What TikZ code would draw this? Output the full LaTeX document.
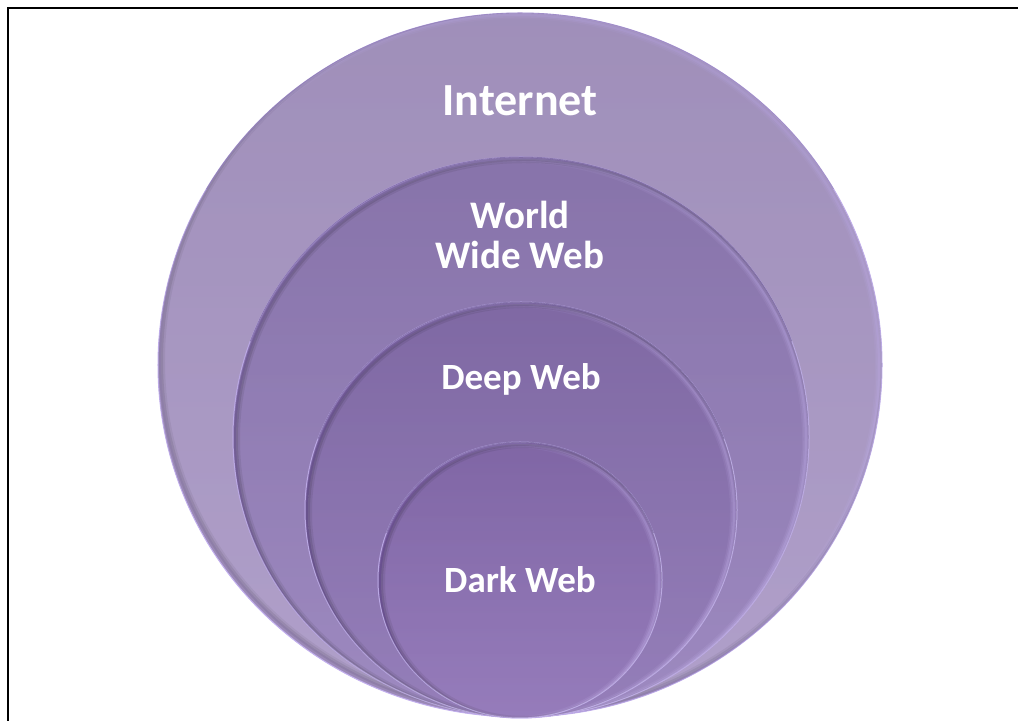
\documentclass[tikz,border=0pt]{standalone}
\usepackage{fontspec}
\setmainfont{Carlito}
\usetikzlibrary{shapes.geometric}
\definecolor{cInt}{HTML}{A592C3}
\definecolor{cWww}{HTML}{8A72B4}
\definecolor{cDeep}{HTML}{8065AC}
\definecolor{cDark}{HTML}{8162AE}
\definecolor{rimlight}{HTML}{C3B0EE}
\definecolor{rimdark}{HTML}{6B5890}
\definecolor{glow}{HTML}{BCA6EC}
\definecolor{shade}{HTML}{5E4C80}
\begin{document}
\begin{tikzpicture}[x=1bp,y=1bp,
  layer/.style={ellipse, inner sep=0pt, draw=rimlight, line width=1bp},
  topedge/.style={draw=rimdark, line width=0.8bp, opacity=0.6},
  lbl/.style={text=white, font=\bfseries, anchor=base, inner sep=0pt}]
\useasboundingbox (0,0) rectangle (1018,721);
\fill[white] (0,0) rectangle (1018,721);
% frame (top and left edges visible)
\coordinate (f1) at (8,0);
\coordinate (f2) at (8,713);
\coordinate (f3) at (1018,713);
\draw[line width=2bp] (f1) -- (f2) -- (f3);
% ---------- Internet
\node[layer, fill=cInt, minimum width=724bp, minimum height=704bp] (internet) at (520,356) {};
\begin{scope}
  \clip (internet.center) ellipse[x radius=362bp, y radius=352bp];
  \foreach \w/\o in {8/0.12,5/0.18,2/0.25}
    \draw[glow, line width=\w bp, opacity=\o] ([xshift=-3bp,yshift=-2bp]internet.center) ellipse[x radius=362bp, y radius=352bp];
  \foreach \w/\o in {8/0.06,4/0.08}
    \draw[shade, line width=\w bp, opacity=\o] ([xshift=3bp,yshift=4bp]internet.center) ellipse[x radius=362bp, y radius=352bp];
\end{scope}
\draw[topedge, opacity=0.35] ([shift={(150:362bp and 352bp)}]internet.center) arc[start angle=150, end angle=30, x radius=362bp, y radius=352bp];
% ---------- World Wide Web
\node[layer, fill=cWww, minimum width=576bp, minimum height=560bp] (www) at (521,284) {};
\begin{scope}
  \clip (www.center) ellipse[x radius=288bp, y radius=280bp];
  \foreach \w/\o in {8/0.12,5/0.18,2/0.25}
    \draw[glow, line width=\w bp, opacity=\o] ([xshift=-3bp,yshift=-2bp]www.center) ellipse[x radius=288bp, y radius=280bp];
  \foreach \w/\o in {8/0.08,4/0.1}
    \draw[shade, line width=\w bp, opacity=\o] ([xshift=3bp,yshift=-2bp]www.center) ellipse[x radius=288bp, y radius=280bp];
\end{scope}
\draw[topedge] ([shift={(160:288bp and 280bp)}]www.center) arc[start angle=160, end angle=20, x radius=288bp, y radius=280bp];
% ---------- Deep Web
\node[layer, fill=cDeep, minimum width=432bp, minimum height=416bp] (deep) at (521,211) {};
\begin{scope}
  \clip (deep.center) ellipse[x radius=216bp, y radius=208bp];
  \foreach \w/\o in {8/0.12,5/0.18,2/0.25}
    \draw[glow, line width=\w bp, opacity=\o] ([xshift=-3bp,yshift=-2bp]deep.center) ellipse[x radius=216bp, y radius=208bp];
  \foreach \w/\o in {8/0.08,4/0.1}
    \draw[shade, line width=\w bp, opacity=\o] ([xshift=3bp,yshift=-2bp]deep.center) ellipse[x radius=216bp, y radius=208bp];
\end{scope}
\draw[topedge] ([shift={(160:216bp and 208bp)}]deep.center) arc[start angle=160, end angle=20, x radius=216bp, y radius=208bp];
% ---------- Dark Web
\node[layer, fill=cDark, minimum width=284bp, minimum height=276bp] (dark) at (520,141) {};
\begin{scope}
  \clip (dark.center) ellipse[x radius=142bp, y radius=138bp];
  \foreach \w/\o in {8/0.12,5/0.18,2/0.25}
    \draw[glow, line width=\w bp, opacity=\o] ([xshift=-3bp,yshift=-2bp]dark.center) ellipse[x radius=142bp, y radius=138bp];
  \foreach \w/\o in {8/0.08,4/0.1}
    \draw[shade, line width=\w bp, opacity=\o] ([xshift=3bp,yshift=-2bp]dark.center) ellipse[x radius=142bp, y radius=138bp];
\end{scope}
\draw[topedge] ([shift={(160:142bp and 138bp)}]dark.center) arc[start angle=160, end angle=20, x radius=142bp, y radius=138bp];
% ---------- labels
\node[lbl, font=\bfseries\fontsize{46bp}{46bp}\selectfont] (tInternet) at (520,605) {Internet};
\node[lbl, font=\bfseries\fontsize{39bp}{39bp}\selectfont] (tWorld) at (520,492) {World};
\node[lbl, font=\bfseries\fontsize{39bp}{39bp}\selectfont] (tWide) at (520,452) {Wide Web};
\node[lbl, font=\bfseries\fontsize{37bp}{37bp}\selectfont] (tDeep) at (521,331) {Deep Web};
\node[lbl, font=\bfseries\fontsize{37bp}{37bp}\selectfont] (tDark) at (520,128) {Dark Web};
\end{tikzpicture}
\end{document}
